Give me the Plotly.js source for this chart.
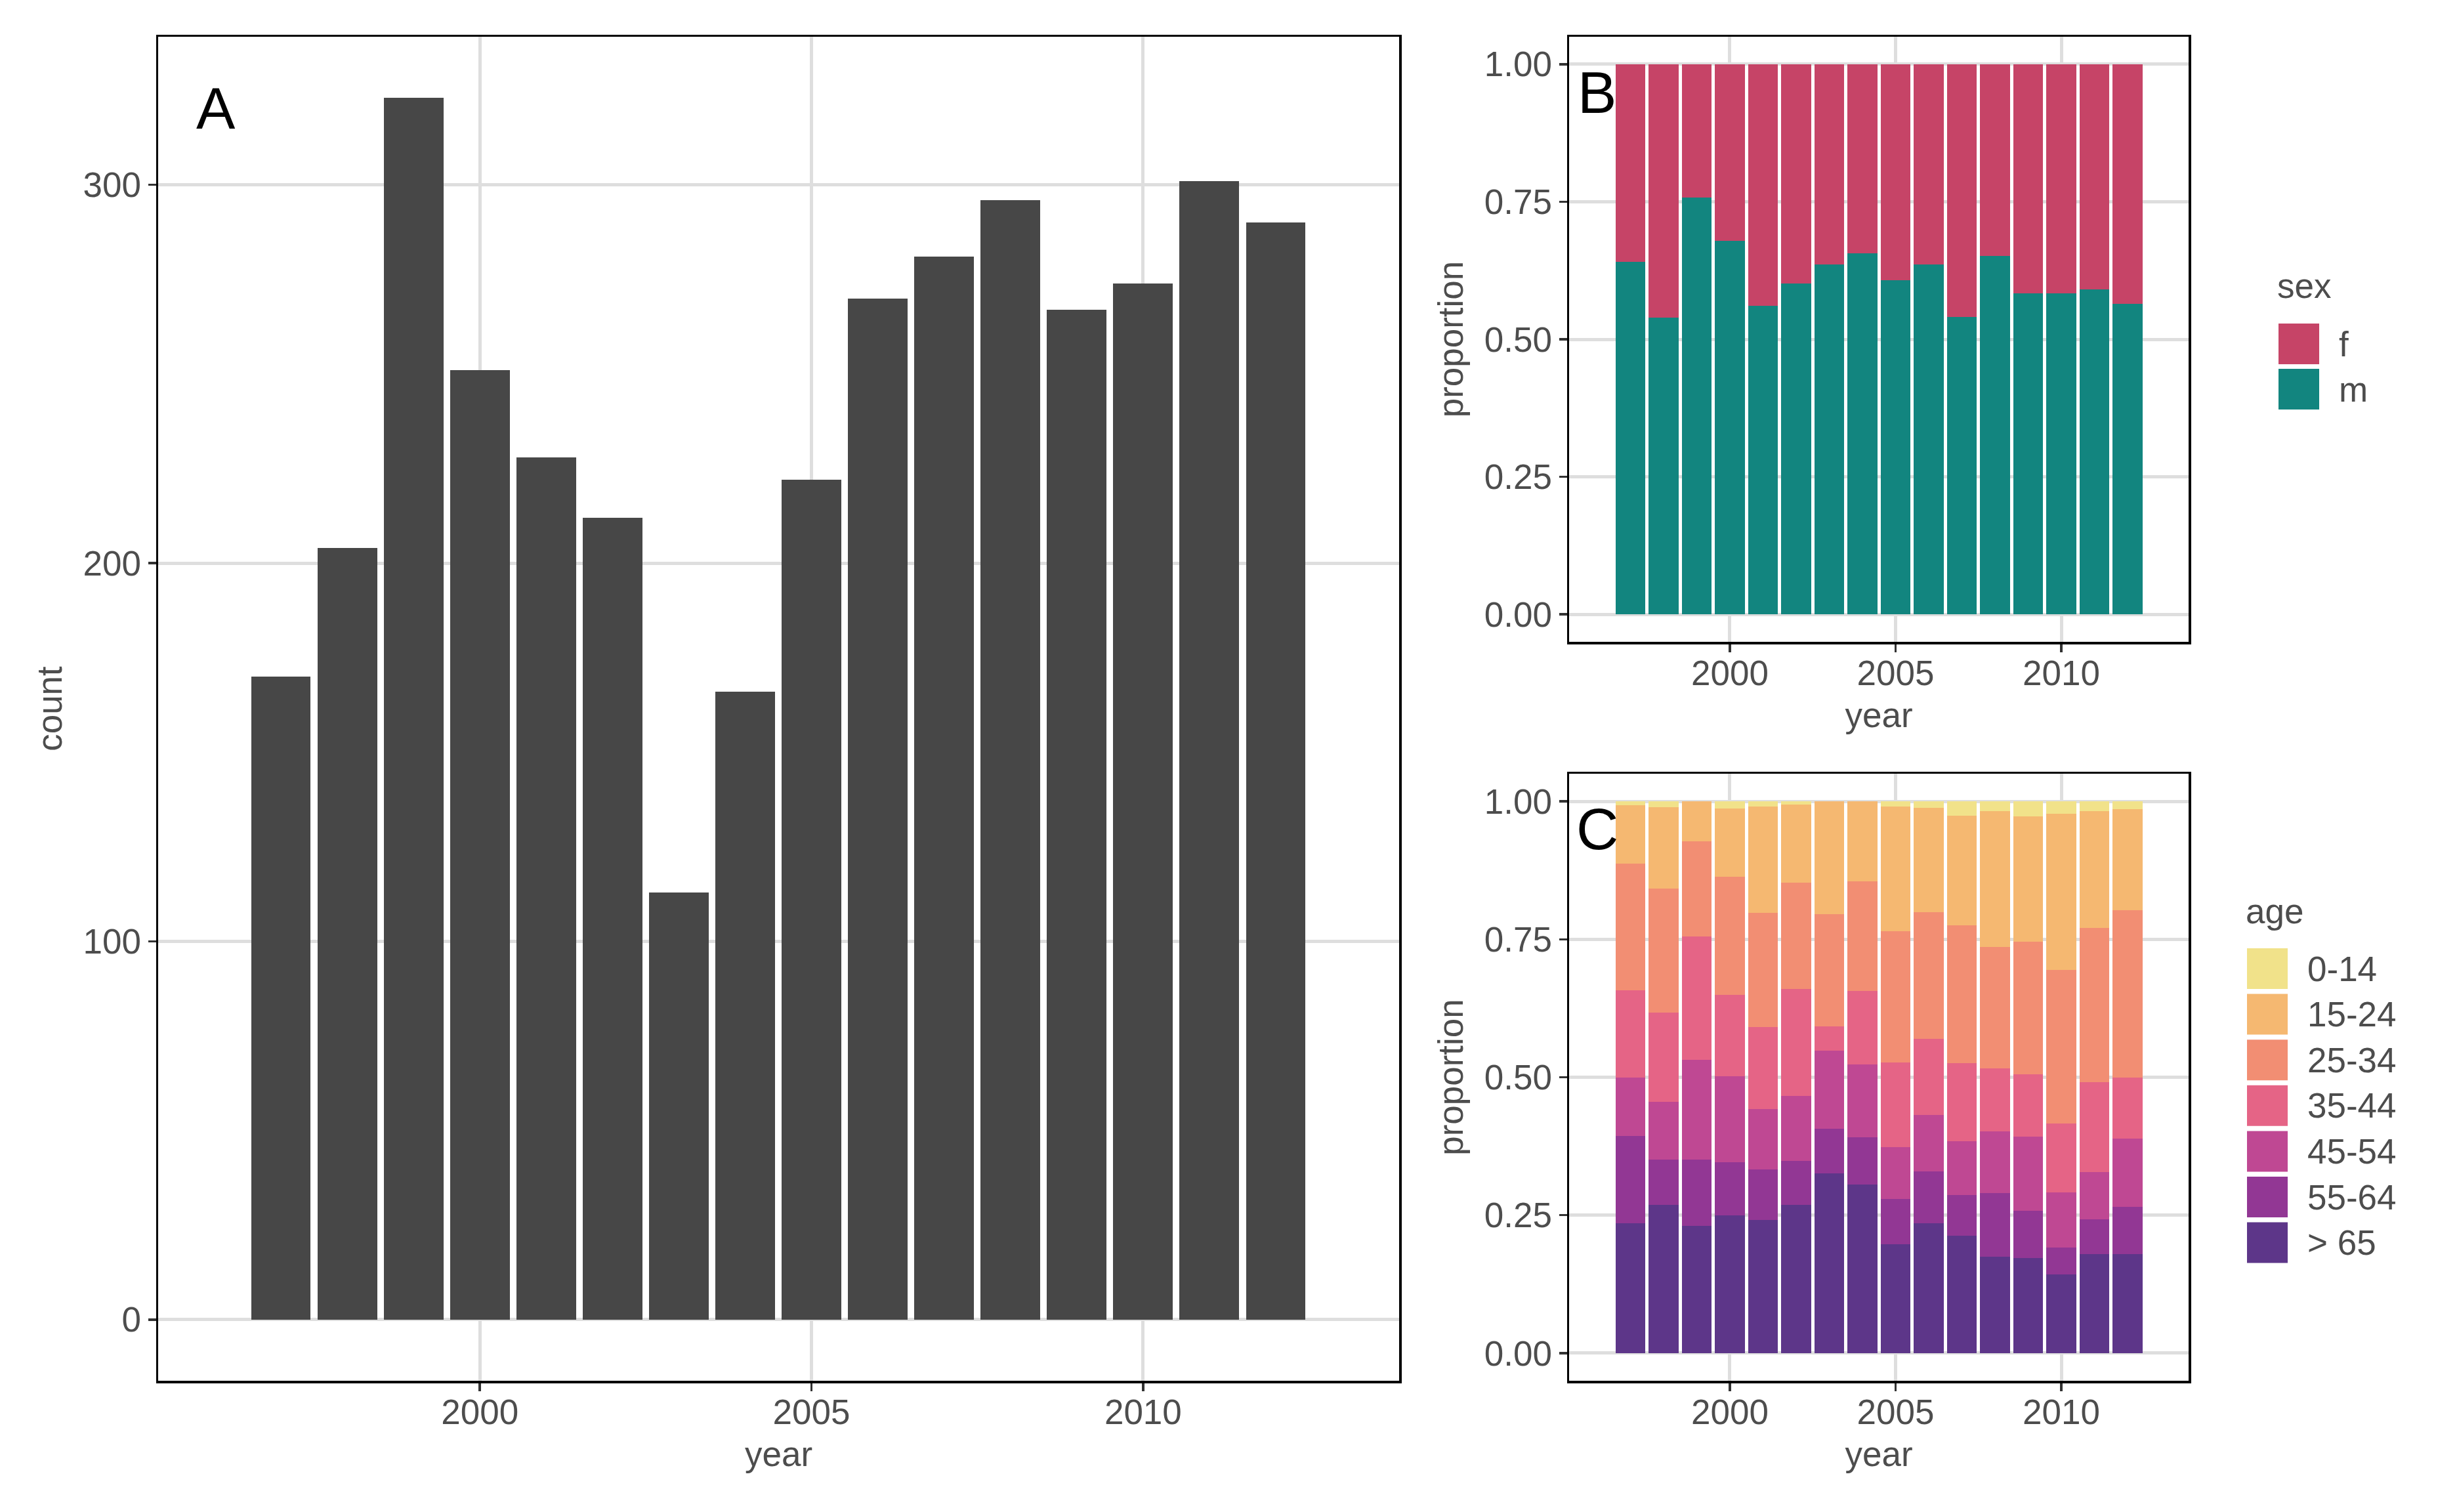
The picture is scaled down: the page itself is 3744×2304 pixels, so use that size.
<!DOCTYPE html>
<html>
<head>
<meta charset="utf-8">
<script src="https://cdn.plot.ly/plotly-3.0.1.min.js"></script>
<style>html,body{margin:0;padding:0;background:#fff}</style>
</head>
<body>
<div id="chart" style="width:3744px;height:2304px"></div>
<script>
// ── Datos ─────────────────────────────────────────────────────────────────
const years  = [1997, 1998, 1999, 2000, 2001, 2002, 2003, 2004, 2005, 2006, 2007, 2008, 2009, 2010, 2011, 2012];
const counts = [170, 204, 323, 251, 228, 212, 113, 166, 222, 270, 281, 296, 267, 274, 301, 290];

const sexLabels = ['f', 'm'];
const sexColors = ['#c64467', '#12857f'];
const sexF = [0.359, 0.461, 0.242, 0.321, 0.439, 0.398, 0.364, 0.344, 0.393, 0.364, 0.459, 0.349, 0.416, 0.416, 0.409, 0.436];
const sexM = [0.641, 0.539, 0.758, 0.679, 0.561, 0.602, 0.636, 0.656, 0.607, 0.636, 0.541, 0.651, 0.584, 0.584, 0.591, 0.564];

const ageLabels = ['0-14', '15-24', '25-34', '35-44', '45-54', '55-64', '> 65'];
const ageColors = ['#f1e28a', '#f5b871', '#f28e73', '#e56486', '#bf4893', '#923794', '#5d3689'];
const age0_14  = [0.007, 0.011, 0.000, 0.013, 0.009, 0.006, 0.000, 0.000, 0.009, 0.012, 0.026, 0.018, 0.027, 0.023, 0.018, 0.014];
const age15_24 = [0.106, 0.147, 0.073, 0.124, 0.193, 0.141, 0.205, 0.145, 0.226, 0.189, 0.199, 0.246, 0.228, 0.283, 0.212, 0.183];
const age25_34 = [0.229, 0.225, 0.172, 0.214, 0.207, 0.193, 0.203, 0.199, 0.238, 0.230, 0.249, 0.220, 0.240, 0.278, 0.279, 0.304];
const age35_44 = [0.159, 0.162, 0.223, 0.147, 0.149, 0.194, 0.044, 0.133, 0.154, 0.137, 0.142, 0.114, 0.113, 0.125, 0.163, 0.110];
const age45_54 = [0.106, 0.104, 0.181, 0.156, 0.109, 0.118, 0.141, 0.132, 0.094, 0.103, 0.097, 0.112, 0.134, 0.099, 0.086, 0.124];
const age55_64 = [0.158, 0.082, 0.120, 0.096, 0.092, 0.079, 0.081, 0.085, 0.082, 0.093, 0.074, 0.115, 0.086, 0.049, 0.063, 0.086];
const age65    = [0.235, 0.269, 0.231, 0.250, 0.241, 0.269, 0.326, 0.306, 0.197, 0.236, 0.213, 0.175, 0.172, 0.143, 0.179, 0.179];
const ageValues = [age0_14, age15_24, age25_34, age35_44, age45_54, age55_64, age65];

const yearTicks = [2000, 2005, 2010];
const countTicks = [0, 100, 200, 300];
const propTicks = [0, 0.25, 0.5, 0.75, 1];

// ── Estilo ────────────────────────────────────────────────────────────────
const W = 3744, H = 2304;
const px = v => v / W;          // píxel -> fracción de papel (x)
const py = v => 1 - v / H;      // píxel -> fracción de papel (y)
const FONT = 'Liberation Sans, Arial, sans-serif';
const TEXT = '#4d4d4d';
const FS = 53;

function axisBase(extra) {
  return Object.assign({
    showgrid: true, gridcolor: '#dedede', gridwidth: 5,
    zeroline: false,
    showline: true, linecolor: '#000', linewidth: 3.5, mirror: true,
    ticks: 'outside', ticklen: 12, tickwidth: 3.5, tickcolor: '#333',
    tickfont: { family: FONT, size: FS, color: TEXT },
    fixedrange: true
  }, extra);
}
const axTitle = (text, standoff) => ({ text, standoff, font: { family: FONT, size: FS, color: TEXT } });

// ── Trazas ────────────────────────────────────────────────────────────────
const traces = [];

traces.push({
  type: 'bar', x: years, y: counts, xaxis: 'x', yaxis: 'y',
  marker: { color: '#474747' }, showlegend: false
});

// sexo: m abajo, f arriba
[1, 0].forEach(i => {
  traces.push({
    type: 'bar', x: years, y: i === 0 ? sexF : sexM, name: sexLabels[i],
    xaxis: 'x2', yaxis: 'y2', marker: { color: sexColors[i] }, showlegend: false
  });
});

// edad: normalizado por año, '> 65' abajo
const ageTotals = years.map((_, j) => ageValues.reduce((s, a) => s + a[j], 0));
for (let i = ageValues.length - 1; i >= 0; i--) {
  traces.push({
    type: 'bar', x: years, y: ageValues[i].map((v, j) => v / ageTotals[j]), name: ageLabels[i],
    xaxis: 'x3', yaxis: 'y3', marker: { color: ageColors[i] }, showlegend: false
  });
}

// ── Leyendas dibujadas a mano (claves grandes como en ggplot) ───────────
const shapes = [];
const annotations = [];

function addLegend(title, labels, colors, keyLeft, titleY, firstTop, pitch, labelLeft) {
  annotations.push({
    xref: 'paper', yref: 'paper', x: px(keyLeft - 4), y: py(titleY),
    xanchor: 'left', yanchor: 'middle', showarrow: false, text: title,
    font: { family: FONT, size: FS, color: TEXT }
  });
  labels.forEach((lab, i) => {
    const top = firstTop + i * pitch;
    shapes.push({
      type: 'rect', xref: 'paper', yref: 'paper',
      x0: px(keyLeft), x1: px(keyLeft + 62), y0: py(top), y1: py(top + 62),
      fillcolor: colors[i], line: { width: 0 }
    });
    annotations.push({
      xref: 'paper', yref: 'paper', x: px(labelLeft), y: py(top + 31),
      xanchor: 'left', yanchor: 'middle', showarrow: false, text: lab,
      font: { family: FONT, size: FS, color: TEXT }
    });
  });
}
addLegend('sex', sexLabels, sexColors, 3472, 435, 493, 69, 3562);
addLegend('age', ageLabels, ageColors, 3424, 1388, 1445, 69.6, 3514);

// etiquetas de panel
[['A', 297, 165], ['B', 2402, 141], ['C', 2400, 1263]].forEach(([t, x, y]) => {
  annotations.push({
    xref: 'paper', yref: 'paper', x: px(x), y: py(y), xanchor: 'left', yanchor: 'middle',
    showarrow: false, text: t, font: { family: FONT, size: 89, color: '#000' }
  });
});

// ── Layout ────────────────────────────────────────────────────────────────
const xTickUp = -13;
const layout = {
  width: W, height: H,
  margin: { l: 0, r: 0, t: 0, b: 0 },
  paper_bgcolor: '#fff', plot_bgcolor: '#fff',
  barmode: 'stack', bargap: 0.1,
  showlegend: false,
  font: { family: FONT, color: TEXT },

  xaxis: axisBase({ domain: [px(241), px(2132)], anchor: 'y', range: [1995.15, 2013.86],
    tickvals: yearTicks, ticklabelstandoff: xTickUp, title: axTitle('year', 18) }),
  yaxis: axisBase({ domain: [py(2104), py(56)], anchor: 'x', range: [-16.15, 339.15],
    tickvals: countTicks, title: axTitle('count', 16) }),

  xaxis2: axisBase({ domain: [px(2391), px(3335)], anchor: 'y2', range: [1995.15, 2013.84],
    tickvals: yearTicks, ticklabelstandoff: xTickUp, title: axTitle('year', 18) }),
  yaxis2: axisBase({ domain: [py(978), py(56)], anchor: 'x2', range: [-0.05, 1.05],
    tickvals: propTicks, tickformat: '.2f', title: axTitle('proportion', 16) }),

  xaxis3: axisBase({ domain: [px(2391), px(3335)], anchor: 'y3', range: [1995.15, 2013.84],
    tickvals: yearTicks, ticklabelstandoff: xTickUp, title: axTitle('year', 18) }),
  yaxis3: axisBase({ domain: [py(2104), py(1179)], anchor: 'x3', range: [-0.05, 1.05],
    tickvals: propTicks, tickformat: '.2f', title: axTitle('proportion', 16) }),

  shapes, annotations
};

Plotly.newPlot('chart', traces, layout, { displayModeBar: false, staticPlot: true });
</script>
</body>
</html>
